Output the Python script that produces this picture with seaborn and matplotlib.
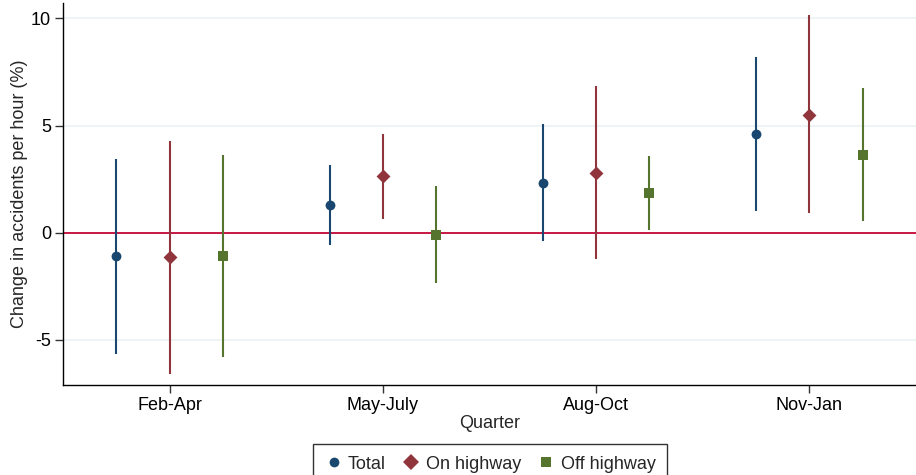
import matplotlib
matplotlib.use("Agg")
import matplotlib.pyplot as plt
from matplotlib.lines import Line2D
import seaborn as sns
import pandas as pd

# Quarterly estimates with 95% confidence intervals
quarters = ["Feb-Apr", "May-July", "Aug-Oct", "Nov-Jan"]
series = ["Total", "On highway", "Off highway"]

total_est = [-1.10, 1.31, 2.34, 4.61]
total_lo = [-5.66, -0.56, -0.39, 1.00]
total_hi = [3.43, 3.17, 5.07, 8.22]

onhw_est = [-1.12, 2.63, 2.80, 5.51]
onhw_lo = [-6.59, 0.64, -1.24, 0.91]
onhw_hi = [4.30, 4.63, 6.84, 10.17]

offhw_est = [-1.06, -0.09, 1.87, 3.63]
offhw_lo = [-5.81, -2.34, 0.14, 0.55]
offhw_hi = [3.65, 2.17, 3.57, 6.76]

colors = {"Total": "#1a476f", "On highway": "#90353b", "Off highway": "#55752f"}
markers = {"Total": "o", "On highway": "D", "Off highway": "s"}
sizes = {"Total": 50, "On highway": 50, "Off highway": 50}
offsets = {"Total": -0.25, "On highway": 0.0, "Off highway": 0.25}

rows = []
for name, est, lo, hi in [("Total", total_est, total_lo, total_hi),
                          ("On highway", onhw_est, onhw_lo, onhw_hi),
                          ("Off highway", offhw_est, offhw_lo, offhw_hi)]:
    for i, q in enumerate(quarters):
        rows.append({"quarter": q, "series": name, "est": est[i],
                     "lo": lo[i], "hi": hi[i],
                     "xpos": i + 1 + offsets[name]})
df = pd.DataFrame(rows)

sns.set_theme(style="white")
plt.rcParams["font.family"] = ["Liberation Sans", "DejaVu Sans"]
plt.rcParams["axes.unicode_minus"] = False

fig = plt.figure(figsize=(9.16, 4.75), dpi=100)
ax = fig.add_axes([63 / 916, 1 - 385 / 475, 1 - 63 / 916, (385 - 3) / 475])

# light horizontal grid
for yv in [-5, 5, 10]:
    ax.axhline(yv, color="#eaf2f3", lw=1.2, zorder=0)
ax.axhline(0, color="#c10534", lw=1.3, zorder=1)

# confidence interval whiskers and point estimates
for name in series:
    sub = df[df["series"] == name]
    ax.vlines(sub["xpos"], sub["lo"], sub["hi"], color=colors[name],
              lw=1.5, zorder=2)
    sns.scatterplot(data=sub, x="xpos", y="est", color=colors[name],
                    marker=markers[name], s=sizes[name], linewidth=0,
                    zorder=3, ax=ax, legend=False)

ax.set_xlim(0.5, 4.5)
ax.set_ylim(-7.1, 10.72)
ax.set_xticks(range(1, 5))
ax.set_xticklabels(quarters, fontsize=13)
ax.set_yticks([-5, 0, 5, 10])
ax.set_yticklabels(["-5", "0", "5", "10"], fontsize=13)
ax.set_xlabel("Quarter", fontsize=13, labelpad=1)
ax.set_ylabel("Change in accidents per hour (%)", fontsize=13, labelpad=2)

for s in ["top", "right"]:
    ax.spines[s].set_visible(False)
for s in ["left", "bottom"]:
    ax.spines[s].set_color("#000000")
    ax.spines[s].set_linewidth(1.0)
ax.tick_params(axis="both", direction="out", length=5.5, width=1.0,
               color="#333333", labelcolor="#000000", pad=3)
ax.tick_params(axis="x", bottom=True)
ax.tick_params(axis="y", left=True)

# legend below the plot
handles = [Line2D([], [], ls="none", marker=markers[n], color=colors[n],
                  markeredgewidth=0,
                  markersize={"Total": 7, "On highway": 8, "Off highway": 7}[n])
           for n in series]
leg = fig.legend(handles, series, loc="upper center", ncol=3,
                 bbox_to_anchor=(0.535, 1 - 444 / 475), fontsize=13,
                 frameon=True, fancybox=False, edgecolor="#000000",
                 handletextpad=0.3, columnspacing=0.9, handlelength=1.0,
                 borderpad=0.65, borderaxespad=0)
leg.get_frame().set_linewidth(1.0)

fig.savefig("out.png", dpi=100)
